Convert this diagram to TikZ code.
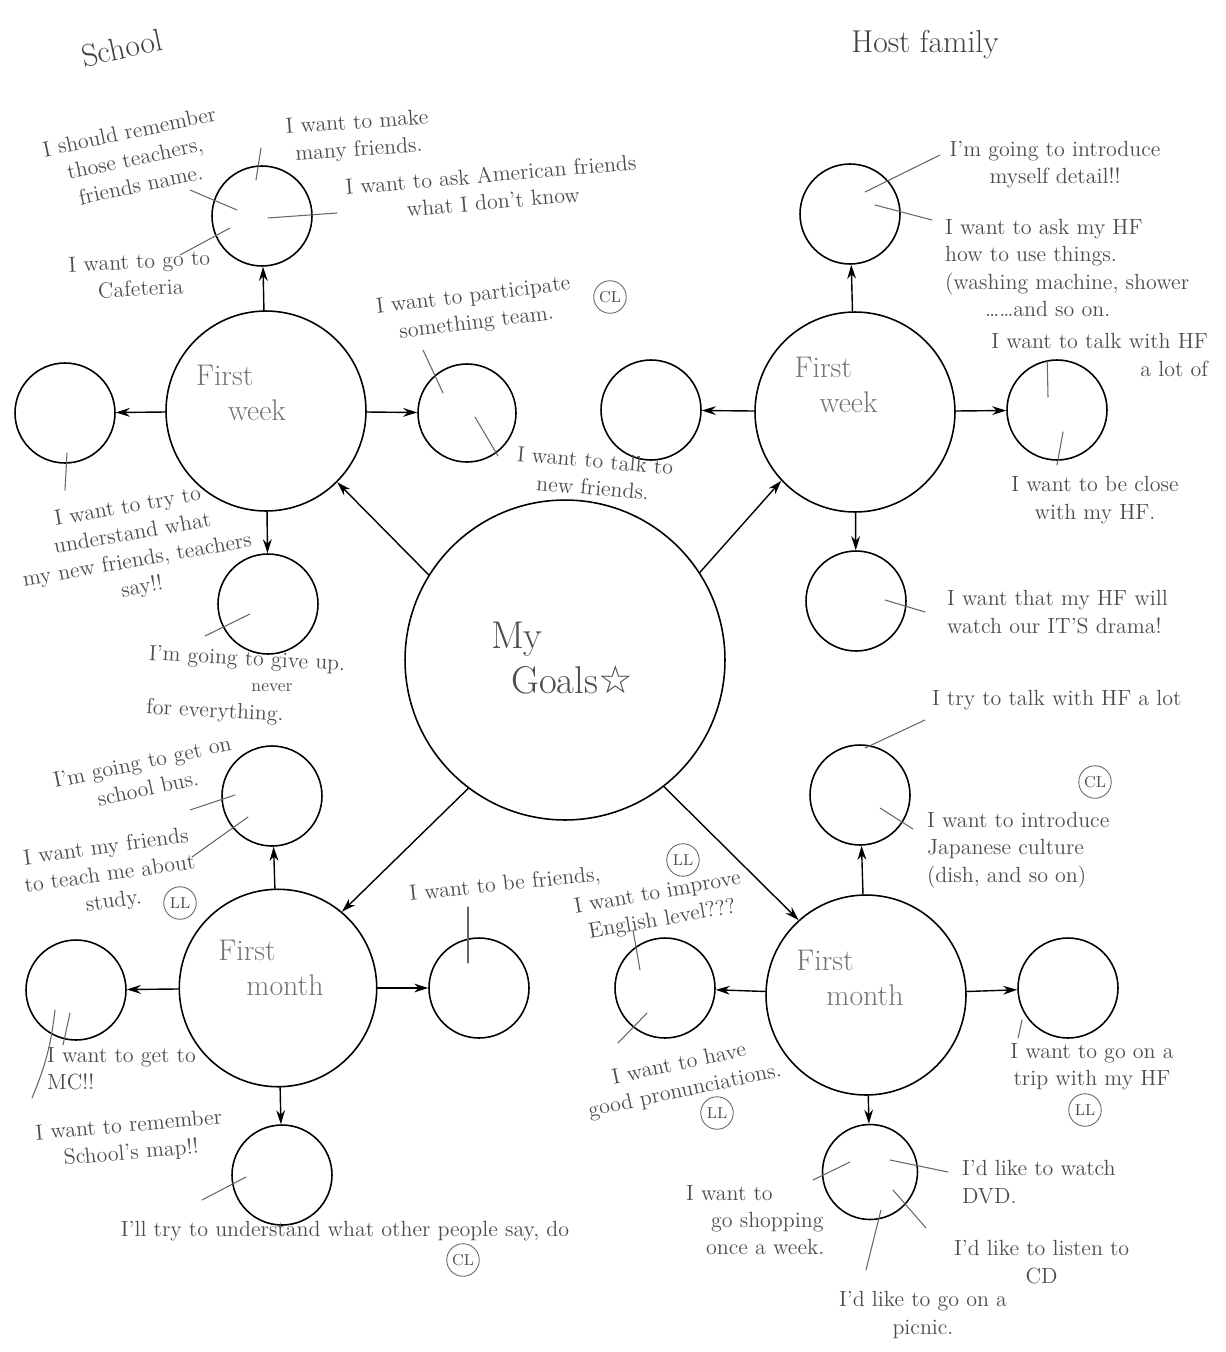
\documentclass[tikz,border=0pt]{standalone}
\usepackage{fontspec}
\newfontfamily\starfont{DejaVu Sans}
\usetikzlibrary{arrows.meta}
\tikzset{
  goal/.style={circle,draw,line width=0.9pt,minimum size=6.4cm,inner sep=0pt},
  stage/.style={circle,draw,line width=0.9pt,minimum size=4cm,inner sep=0pt},
  leaf/.style={circle,draw,line width=0.9pt,minimum size=2cm,inner sep=0pt},
  stagetxt/.style={text=black!55,font=\fontsize{17}{20}\selectfont,align=left,inner sep=0pt},
  note/.style={text=black!70,font=\fontsize{12.5}{15.5}\selectfont,align=center,inner sep=1pt},
  lead/.style={black!60,line width=0.6pt},
  arr/.style={->,line width=0.8pt},
  tag/.style={circle,draw=black!60,line width=0.5pt,inner sep=1pt,minimum size=0.65cm,text=black!70,font=\small},
  title/.style={font=\fontsize{18}{22}\selectfont,text=black!75}
}
\begin{document}
\begin{tikzpicture}[x=0.02cm,y=-0.02cm,>={Stealth[length=8pt,width=5pt]},line cap=round,line join=round]
\useasboundingbox (0,0) rectangle (1225,1352);
\node[title,rotate=12] (school) at (122,48) {School};
\node[title] (host) at (925,45) {Host family};
% circles
\node[goal] (goals) at (565,660) {};
\node[stage] (sw) at (266,411) {};
\node[leaf] (swn) at (262,216) {};
\node[leaf] (sww) at (65,413) {};
\node[leaf,minimum size=1.96cm] (swe) at (467,413) {};
\node[leaf] (sws) at (268,604) {};
\node[stage] (hw) at (855,412) {};
\node[leaf] (hwn) at (850,214) {};
\node[leaf] (hww) at (651,410) {};
\node[leaf] (hwe) at (1057,410) {};
\node[leaf] (hws) at (856,601) {};
\node[stage,minimum size=3.95cm] (sm) at (278,988) {};
\node[leaf] (smn) at (272,796) {};
\node[leaf] (smw) at (76,990) {};
\node[leaf] (sme) at (479,988) {};
\node[leaf] (sms) at (282,1175) {};
\node[stage] (hm) at (866,995) {};
\node[leaf] (hmn) at (860,795) {};
\node[leaf] (hmw) at (665,988) {};
\node[leaf] (hme) at (1068,988) {};
\node[leaf,minimum size=1.9cm] (hms) at (870,1172) {};
\node[note,font=\fontsize{22}{26}\selectfont,align=left] (gt) at (562,658) {My\\\hspace*{0.4cm}Goals{\starfont ☆}};
\node[stagetxt] (swt) at (241,393) {First\\\hspace*{0.64cm}week};
\node[stagetxt] (hwt) at (836,385) {First\\\hspace*{0.5cm}week};
\node[stagetxt] (smt) at (271,968) {First\\\hspace*{0.56cm}month};
\node[stagetxt] (hmt) at (850,978) {First\\\hspace*{0.6cm}month};
% arrows
\foreach \s/\a/\b in {sw/148/-45,hw/33/223,sm/233/50,hm/-52/132}
  \draw[arr] (goals.\a) -- (\s.\b);
\foreach \s in {sw,hw,sm,hm} \foreach \d in {n,w,e,s} \draw[arr] (\s) -- (\s\d);
% school, first week
\node[note,rotate=12] (rem) at (135,158) {I should remember\\those teachers,\\friends name.};
\node[note,rotate=4] (make) at (358,137) {I want to make\\many friends.};
\node[note,rotate=5] (ask) at (492,188) {I want to ask American friends\\what I don't know};
\node[note,rotate=3] (caf) at (140,275) {I want to go to\\Cafeteria};
\node[note,rotate=7] (part) at (475,310) {I want to participate\\something team.};
\node[tag] (cl1) at (610,297) {CL};
\node[note,rotate=-5] (talk) at (594,474) {I want to talk to\\new friends.};
\node[note,rotate=10] (tryund) at (135,548) {I want to try to\\understand what\\my new friends, teachers\\say!!};
\node[note,rotate=-3] (giveup) at (247,660) {I'm going to give up.};
\node[note,font=\fontsize{10}{12}\selectfont] (never) at (272,688) {never};
\node[note,rotate=-3] (every) at (215,712) {for everything.};
\draw[lead] ([shift={(55,32)}]rem.center) -- ([shift={(-25,-6)}]swn.center);
\draw[lead] ([shift={(-97,11)}]make.center) -- ([shift={(-6,-36)}]swn.center);
\draw[lead] ([shift={(-155,25)}]ask.center) -- ([shift={(6,2)}]swn.center);
\draw[lead] ([shift={(40,-20)}]caf.center) -- ([shift={(-32,12)}]swn.center);
\draw[lead] ([shift={(-52,40)}]part.center) -- ([shift={(-24,-20)}]swe.center);
\draw[lead] ([shift={(-96,-18)}]talk.center) -- ([shift={(8,4)}]swe.center);
\draw[lead] ([shift={(-70,-58)}]tryund.center) -- ([shift={(2,40)}]sww.center);
\draw[lead] ([shift={(-42,-24)}]giveup.center) -- ([shift={(-18,10)}]sws.center);
% host family, first week
\node[note] (intro) at (1055,165) {I'm going to introduce\\myself detail!!};
\node[note,align=left,anchor=west] (askhf) at (943,268) {I want to ask my HF\\how to use things.\\(washing machine, shower\\\hspace*{0.8cm}\dots\dots and so on.};
\node[note,align=right,anchor=east] (talkhf) at (1210,355) {I want to talk with HF\\a lot of};
\node[note] (close) at (1095,500) {I want to be close\\with my HF.};
\node[note,align=left,anchor=west] (watch) at (945,612) {I want that my HF will\\watch our IT'S drama!};
\draw[lead] ([shift={(-115,-10)}]intro.center) -- ([shift={(15,-22)}]hwn.center);
\draw[lead] ([shift={(-11,-48)}]askhf.west) -- ([shift={(25,-9)}]hwn.center);
\draw[lead] ([shift={(58,6)}]talkhf.west) -- ([shift={(-9,-13)}]hwe.center);
\draw[lead] ([shift={(-38,-35)}]close.center) -- ([shift={(6,22)}]hwe.center);
\draw[lead] ([shift={(-20,0)}]watch.west) -- ([shift={(29,-1)}]hws.center);
% school, first month
\node[note,rotate=12] (bus) at (145,775) {I'm going to get on\\school bus.};
\node[note,rotate=8] (teach) at (110,875) {I want my friends\\to teach me about\\study.};
\node[tag] (ll1) at (180,903) {LL};
\node[note,align=left,anchor=north west] (mc) at (45,1045) {I want to get to\\MC!!};
\node[note,rotate=5] (remap) at (130,1140) {I want to remember\\School's map!!};
\node[note] (under) at (345,1231) {I'll try to understand what other people say, do};
\node[tag] (cl3) at (463,1260) {CL};
\node[note,rotate=6] (befr) at (505,885) {I want to be friends,};
\draw[lead] ([shift={(45,35)}]bus.center) -- ([shift={(-37,-1)}]smn.center);
\draw[lead] ([shift={(82,-18)}]teach.center) -- ([shift={(-24,21)}]smn.center);
\draw[lead] ([shift={(18,0)}]mc.north west) -- ([shift={(-6,23)}]smw.center);
\draw[lead] ([shift={(-98,-42)}]remap.center) to[bend right=8] ([shift={(-21,20)}]smw.center);
\draw[lead] ([shift={(-143,-31)}]under.center) -- ([shift={(-36,2)}]sms.center);
\draw[lead] ([shift={(-37,22)}]befr.center) -- ([shift={(-11,-25)}]sme.center);
% host family, first month
\node[note,anchor=west] (talklot) at (930,700) {I try to talk with HF a lot};
\node[tag] (cl2) at (1095,782) {CL};
\node[note,align=left,anchor=west] (japan) at (925,850) {I want to introduce\\Japanese culture\\(dish, and so on)};
\node[note,rotate=10] (improve) at (660,907) {I want to improve\\English level???};
\node[tag] (ll2) at (683,860) {LL};
\node[note,rotate=12] (pron) at (682,1078) {I want to have\\good pronunciations.};
\node[tag] (ll3) at (717,1113) {LL};
\node[note] (trip) at (1092,1067) {I want to go on a\\trip with my HF};
\node[tag] (ll4) at (1085,1110) {LL};
\node[note,align=left,anchor=west] (dvd) at (960,1182) {I'd like to watch\\DVD.};
\node[note,align=left,anchor=west] (shop) at (684,1220) {I want to\\\hspace*{0.5cm}go shopping\\\hspace*{0.4cm}once a week.};
\node[note,anchor=west] (cd) at (952,1262) {I'd like to listen to\\CD};
\node[note] (picnic) at (923,1315) {I'd like to go on a\\picnic.};
\draw[lead] ([shift={(-5,20)}]talklot.west) -- ([shift={(5,-47)}]hmn.center);
\draw[lead] ([shift={(-12,-21)}]japan.west) -- ([shift={(20,13)}]hmn.center);
\draw[lead] ([shift={(-27,23)}]improve.center) -- ([shift={(-25,-18)}]hmw.center);
\draw[lead] ([shift={(-64,-35)}]pron.center) -- ([shift={(-18,25)}]hmw.center);
\draw[lead] ([shift={(-74,-29)}]trip.center) -- ([shift={(-46,32)}]hme.center);
\draw[lead] ([shift={(-12,-10)}]dvd.west) -- ([shift={(20,-12)}]hms.center);
\draw[lead] ([shift={(129,-40)}]shop.west) -- ([shift={(-20,-10)}]hms.center);
\draw[lead] ([shift={(-26,-34)}]cd.west) -- ([shift={(23,18)}]hms.center);
\draw[lead] ([shift={(-57,-45)}]picnic.center) -- ([shift={(11,38)}]hms.center);
\end{tikzpicture}
\end{document}
